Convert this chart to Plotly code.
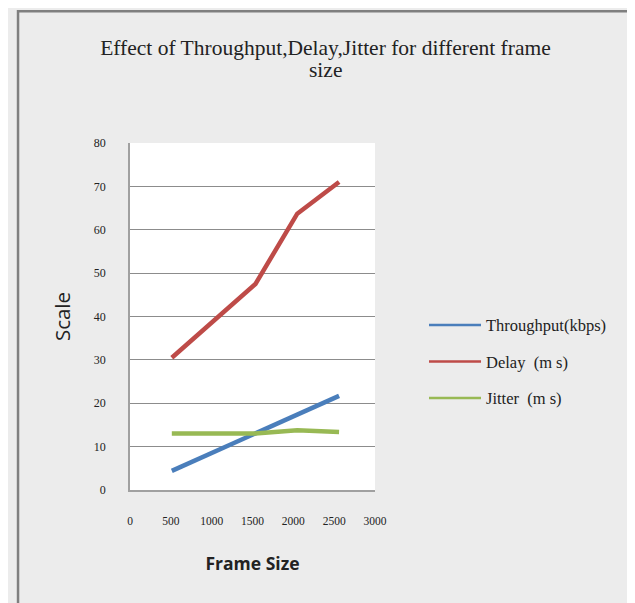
import plotly.graph_objects as go

frame_size = [512, 1024, 1536, 2048, 2560]
throughput = [4.4, 8.7, 13.0, 17.5, 21.7]
delay = [30.5, 39.0, 47.5, 63.7, 71.0]
jitter = [13.0, 13.0, 13.0, 13.8, 13.4]

series = [
    ("Throughput(kbps)", throughput, "#4a7ebb"),
    ("Delay  (m s)", delay, "#be4b48"),
    ("Jitter  (m s)", jitter, "#98b954"),
]

fig = go.Figure()
for i, (name, vals, col) in enumerate(series):
    fig.add_trace(go.Scatter(x=frame_size, y=vals, mode="lines", name=name,
                             line=dict(color=col, width=4.5), showlegend=False))
for i, (name, vals, col) in enumerate(series):
    fig.add_trace(go.Scatter(x=[None], y=[None], mode="lines", name=name,
                             legendgroup=f"g{i}",
                             line=dict(color=col, width=2.5), showlegend=True))

serif = "Liberation Serif"
fig.update_layout(
    width=635, height=603,
    margin=dict(l=122, r=268, t=135, b=121),
    paper_bgcolor="#ececec",
    plot_bgcolor="#ffffff",
    title=dict(text="Effect of Throughput,Delay,Jitter for different frame",
               x=0.5, xref="container", xanchor="center", y=0.935, yanchor="middle",
               font=dict(family=serif, size=21.5, color="#222222")),
    annotations=[dict(text="size", xref="paper", yref="paper", x=0.796, y=1.21,
                      xanchor="center", yanchor="middle", showarrow=False,
                      font=dict(family=serif, size=21.5, color="#222222"))],
    xaxis=dict(range=[0, 3000], tickvals=[0, 500, 1000, 1500, 2000, 2500, 3000],
               showgrid=False, zeroline=False, showline=True, linecolor="#a0a0a0",
               linewidth=1.5, ticks="outside", ticklen=19, tickcolor="rgba(0,0,0,0)",
               tickfont=dict(family=serif, size=11.5, color="#222222"),
               title=dict(text="<b>Frame Size</b>", standoff=32,
                          font=dict(family="Open Sans", size=17.5, color="#222222"))),
    yaxis=dict(range=[0, 80], tickvals=[0, 10, 20, 30, 40, 50, 60, 70, 80],
               showgrid=True, gridcolor="#8c8c8c", gridwidth=1, zeroline=False,
               showline=True, linecolor="#a0a0a0", linewidth=1.5,
               ticks="outside", ticklen=20, tickcolor="rgba(0,0,0,0)",
               tickfont=dict(family=serif, size=12, color="#222222"),
               title=dict(text="Scale", standoff=18,
                          font=dict(family="Open Sans", size=20.5, color="#222222"))),
    legend=dict(x=1.2, xanchor="left", y=0.525, yanchor="top", itemwidth=52,
                bgcolor="rgba(0,0,0,0)", tracegroupgap=12, traceorder="grouped",
                font=dict(family=serif, size=16.5, color="#222222")),
    shapes=[dict(type="rect", xref="paper", yref="paper",
                 x0=-0.457, x1=2.049, y0=-0.5, y1=1.38,
                 line=dict(color="#7f7f7f", width=2.5), layer="below")],
)

fig.write_html("out.html")
